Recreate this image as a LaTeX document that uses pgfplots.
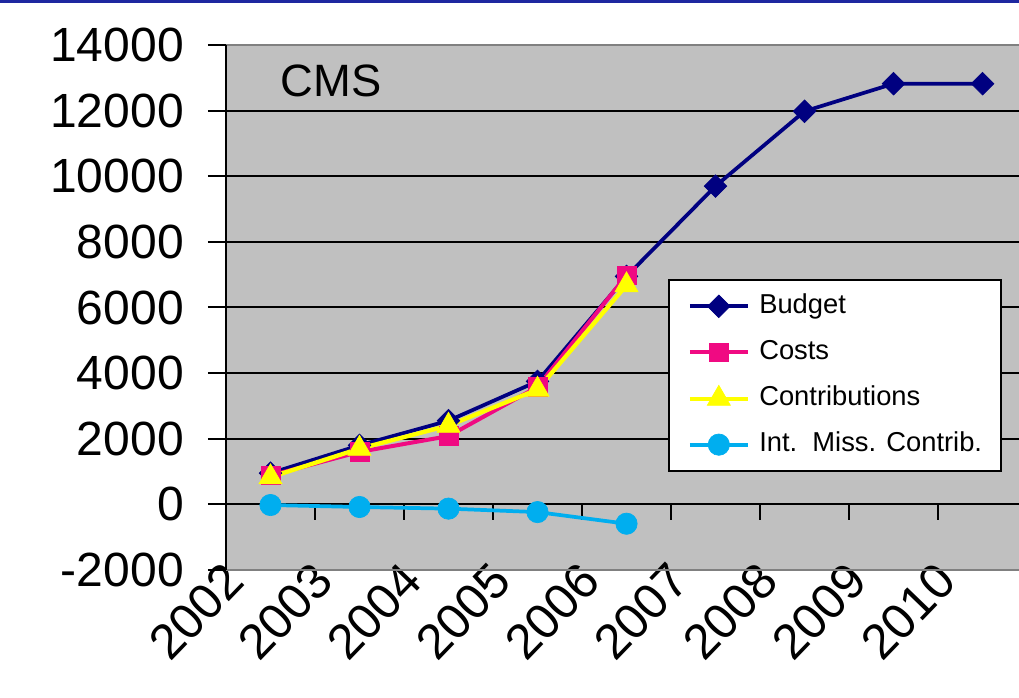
\documentclass[border=0pt]{standalone}
\usepackage{fontspec}
\setmainfont{Liberation Sans}
\usepackage{pgfplots}
\pgfplotsset{compat=1.18}
\definecolor{bgray}{RGB}{192,192,192}
\definecolor{budget}{RGB}{0,0,128}
\definecolor{costs}{RGB}{240,10,130}
\definecolor{contrib}{RGB}{255,255,0}
\definecolor{intmiss}{RGB}{0,174,239}
\definecolor{topblue}{RGB}{30,40,160}
\definecolor{edgegray}{RGB}{128,128,128}
\begin{document}
\begin{tikzpicture}
\begin{axis}[
  name=ax, at={(0,0)}, anchor=south west,
  scale only axis, width=594.75pt, height=393.75pt,
  xmin=-0.5, xmax=8.41, ymin=-2000, ymax=14000,
  scaled y ticks=false,
  axis background/.style={fill=bgray},
  axis line style={draw=none},
  clip=false,
  xtick={0,1,2,3,4,5,6,7,8},
  xticklabels={2002,2003,2004,2005,2006,2007,2008,2009,2010},
  xtick style={draw=none},
  xticklabel style={font=\fontsize{37}{37}\selectfont, inner sep=0pt, xshift=-27pt, yshift=12pt, rotate=46, anchor=east},
  ytick={-2000,0,2000,4000,6000,8000,10000,12000,14000},
  yticklabels={-2000,0,2000,4000,6000,8000,10000,12000,14000},
  ytick pos=left, tick align=outside, major tick length=13.5pt,
  ytick style={line width=1.5pt, black},
  yticklabel style={font=\fontsize{36}{36}\selectfont, inner sep=0pt, anchor=east, xshift=-18pt},
  ymajorgrids, major grid style={black, line width=1.5pt},
  legend style={at={(0.5574,0.5543)}, anchor=north west, draw=black, line width=1.5pt, fill=white,
    font=\fontsize{20.5}{20.5}\selectfont, inner xsep=14pt, inner ysep=10pt, row sep=15pt,
    nodes={inner sep=0pt, text height=15pt, text depth=4.5pt},
    /tikz/every odd column/.append style={column sep=7pt}},
  legend cell align=left,
  legend image code/.code={\draw[mark repeat=2,mark phase=2,#1] plot coordinates {(0pt,0pt) (21.75pt,0pt) (43.5pt,0pt)};},
]
\pgfplotsinvokeforeach{0.5,1.5,2.5,3.5,4.5,5.5,6.5,7.5}{\draw[black,line width=1.5pt] (axis cs:#1,0) -- ++(0pt,-12pt);}
\addplot[budget, line width=2.8pt, mark=square*, mark size=6pt, mark options={rotate=45, line width=0.5pt, fill=budget}]
  coordinates {(0,950) (1,1800) (2,2550) (3,3750) (4,6950) (5,9700) (6,11980) (7,12820) (8,12820)};
\addlegendentry{Budget}
\addplot[costs, line width=3pt, mark=square*, mark size=7pt, mark options={line width=0.5pt, fill=costs}]
  coordinates {(0,880) (1,1600) (2,2080) (3,3580) (4,6980)};
\addlegendentry{Costs}
\addplot[contrib, line width=3.2pt, mark=triangle*, mark size=10pt, mark options={line width=0.5pt, fill=contrib}]
  coordinates {(0,830) (1,1700) (2,2400) (3,3500) (4,6680)};
\addlegendentry{Contributions}
\addplot[intmiss, line width=2.8pt, mark=*, mark size=8pt, mark options={line width=0.5pt, fill=intmiss}]
  coordinates {(0,-20) (1,-80) (2,-130) (3,-235) (4,-590)};
\addlegendentry{Int.\ \ Miss. Contrib.}
\node[anchor=base west, font=\fontsize{34}{34}\selectfont, inner sep=0pt] at (rel axis cs:0.069,0.901) {CMS};
\end{axis}
\draw[edgegray, line width=1.5pt] (ax.north west) -- (ax.north east);
\draw[edgegray, line width=1.5pt] (ax.south west) -- (ax.south east);
\draw[black, line width=1.5pt] (ax.south west) -- (ax.north west);
\fill[topblue] (-169.5pt,425.25pt) rectangle (594.75pt,427.5pt);
\pgfresetboundingbox
\path[use as bounding box] (-169.5pt,-96pt) rectangle (594.75pt,427.5pt);
\end{tikzpicture}
\end{document}
